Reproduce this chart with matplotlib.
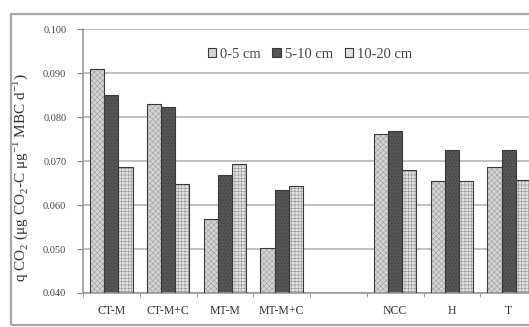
import matplotlib.pyplot as plt
import numpy as np
from matplotlib.patches import Rectangle

# Données
categories = ["CT-M", "CT-M+C", "MT-M", "MT-M+C", "", "NCC", "H", "T"]
series = ["0-5 cm", "5-10 cm", "10-20 cm"]
v_0_5 = [0.0909, 0.0830, 0.0568, 0.0502, np.nan, 0.0761, 0.0655, 0.0686]
v_5_10 = [0.0850, 0.0823, 0.0668, 0.0634, np.nan, 0.0768, 0.0725, 0.0725]
v_10_20 = [0.0686, 0.0648, 0.0693, 0.0643, np.nan, 0.0680, 0.0655, 0.0657]
yticks = [0.040, 0.050, 0.060, 0.070, 0.080, 0.090, 0.100]

plt.rcParams['font.family'] = ['Liberation Serif', 'DejaVu Serif']
plt.rcParams['mathtext.fontset'] = 'custom'
plt.rcParams['mathtext.rm'] = 'Liberation Serif'
plt.rcParams['hatch.linewidth'] = 0.45

fig = plt.figure(figsize=(5.29, 3.27), dpi=100)
# cadre extérieur
fig.patches.append(Rectangle((11 / 529, 2 / 327), 1.2, 311 / 327, transform=fig.transFigure,
                             fill=False, edgecolor="#a8a8a8", linewidth=1.6, figure=fig))

ax = fig.add_axes([83 / 529, 34 / 327, 454 / 529, 264 / 327])

x = np.arange(len(categories))
w = 0.25
styles = [
    ("#d4d4d4", "#a4a4a4", "xxxxxx"),
    ("#555555", "#404040", "....."),
    ("#e2e2e2", "#9a9a9a", "+++++"),
]
valeurs = [v_0_5, v_5_10, v_10_20]
handles = []
for i, (vals, (fc, hc, hatch)) in enumerate(zip(valeurs, styles)):
    pos = x + (i - 1) * w
    h = np.array(vals) - 0.040
    ax.bar(pos, h, w, bottom=0.040, color=fc, edgecolor=hc, hatch=hatch, linewidth=0, zorder=2)
    ax.bar(pos, h, w, bottom=0.040, fill=False, edgecolor="#3a3a3a", linewidth=0.8, zorder=3)
    handles.append(Rectangle((0, 0), 1, 1, facecolor=fc, edgecolor="#3a3a3a", linewidth=0.8))

ax.set_ylim(0.040, 0.100)
ax.set_xlim(-0.5, len(categories) - 0.5)
ax.set_yticks(yticks)
ax.set_yticklabels([f"{t:.3f}" for t in yticks], fontsize=7.5, color="#444444")
ax.set_xticks(x)
ax.set_xticklabels(categories, fontsize=8.5, color="#333333")
ax.set_xticks(np.arange(len(categories) + 1) - 0.5, minor=True)
ax.tick_params(axis="x", which="major", length=0, pad=9)
ax.tick_params(axis="x", which="minor", length=3, color="#888888")
ax.tick_params(axis="y", length=4, color="#888888", pad=8)

ax.grid(axis="y", color="#b5b5b5", linewidth=1.2, zorder=0)
ax.set_axisbelow(True)
for s in ["top", "right"]:
    ax.spines[s].set_visible(False)
for s in ["left", "bottom"]:
    ax.spines[s].set_color("#999999")
    ax.spines[s].set_linewidth(1.2)

ax.set_ylabel("q CO$_2$ (μg CO$_2$-C μg$^{-1}$ MBC d$^{-1}$)", fontsize=11, color="#333333")
ax.yaxis.set_label_coords(-0.117, 0.436)

ax.legend(handles, series, loc="center", bbox_to_anchor=(0.5, 0.905), ncol=3, frameon=False,
          fontsize=10.5, handlelength=0.6, handleheight=0.6, handletextpad=0.25, columnspacing=0.8,
          labelcolor="#444444")

fig.savefig("out.png", dpi=100)
